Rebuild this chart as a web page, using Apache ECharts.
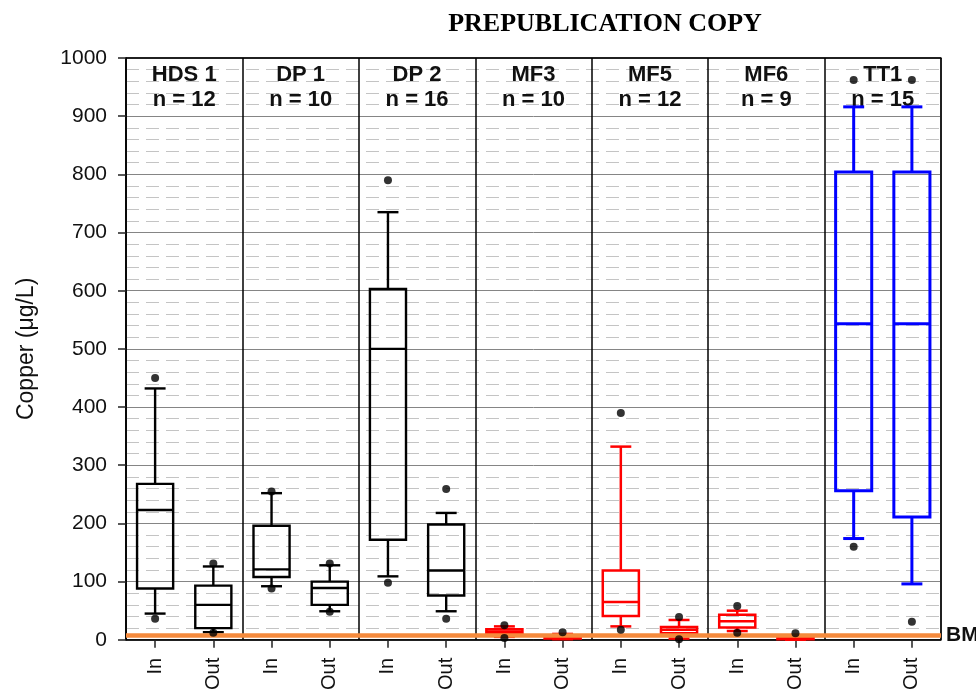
<!DOCTYPE html>
<html>
<head>
<meta charset="utf-8">
<script src="https://cdn.jsdelivr.net/npm/echarts@6/dist/echarts.min.js"></script>
<style>
html,body{margin:0;padding:0;background:#fff;}
#c{width:976px;height:693px;}
</style>
</head>
<body>
<div id="c"></div>
<script>
// ---- data ----
const categories = ['In','Out','In','Out','In','Out','In','Out','In','Out','In','Out','In','Out'];
const groupNames = ['HDS 1','DP 1','DP 2','MF3','MF5','MF6','TT1'];
const groupCounts = [12, 10, 16, 10, 12, 9, 15];
const whiskerLow  = [45, 13,  92,  49, 109,  49,  5,  1,  23,  2, 15, 0, 174,  96];
const quartile1   = [88, 20, 108,  60, 172,  76, 11,  2,  41, 11, 21, 1, 256, 211];
const medians     = [223, 60, 121, 89, 500, 119, 14,  4,  65, 17, 32, 2, 543, 543];
const quartile3   = [268, 93, 196, 100, 603, 198, 18, 7, 119, 22, 43, 4, 804, 804];
const whiskerHigh = [432, 126, 252, 128, 735, 218, 23, 10, 332, 34, 50, 5, 916, 916];
const outlierCategory = [0, 0, 1, 1, 2, 2, 3, 3, 4, 4, 5, 5, 6, 6, 7, 8, 8, 9, 9, 10, 10, 11, 12, 12, 13, 13];
const outlierValues   = [450, 36, 131, 12, 255, 88, 131, 48, 790, 98, 259, 36, 25, 3, 13, 390, 17, 39, 1, 58, 12, 11, 962, 160, 962, 31];
const bmpValue = 8;
const bmpLabel = 'BMP';
const yMin = 0, yMax = 1000, yInterval = 100;
const yTitle = 'Copper (\u03bcg/L)';
const chartTitle = 'PREPUBLICATION COPY';

// ---- styles (separate from data) ----
const groupColors = ['#000000','#000000','#000000','#ff0000','#ff0000','#ff0000','#0000ff'];
const groupLineWidths = [2.4, 2.4, 2.4, 2.5, 2.5, 2.5, 3];

const boxData = categories.map((c, i) => [i, whiskerLow[i], quartile1[i], medians[i], quartile3[i], whiskerHigh[i]]);
const outlierData = outlierCategory.map((c, k) => [c, outlierValues[k]]);
const groupLabels = groupNames.map((g, k) => g + '\nn = ' + groupCounts[k]);

function renderBox(params, api) {
  const i = api.value(0);
  const g = Math.floor(i / 2);
  const color = groupColors[g];
  const lw = groupLineWidths[g];
  const pLow = api.coord([i, api.value(1)]);
  const pQ1 = api.coord([i, api.value(2)]);
  const pMed = api.coord([i, api.value(3)]);
  const pQ3 = api.coord([i, api.value(4)]);
  const pHigh = api.coord([i, api.value(5)]);
  const band = api.size([1, 0])[0];
  const bw = band * 0.62, cw = band * 0.36;
  const cx = pMed[0];
  const st = {stroke: color, lineWidth: lw, fill: 'none'};
  return {
    type: 'group',
    children: [
      {type: 'line', shape: {x1: cx, y1: pQ3[1], x2: cx, y2: pHigh[1]}, style: st},
      {type: 'line', shape: {x1: cx, y1: pQ1[1], x2: cx, y2: pLow[1]}, style: st},
      {type: 'line', shape: {x1: cx - cw / 2, y1: pHigh[1], x2: cx + cw / 2, y2: pHigh[1]}, style: st},
      {type: 'line', shape: {x1: cx - cw / 2, y1: pLow[1], x2: cx + cw / 2, y2: pLow[1]}, style: st},
      {type: 'rect', shape: {x: cx - bw / 2, y: pQ3[1], width: bw, height: pQ1[1] - pQ3[1]}, style: {stroke: color, lineWidth: lw, fill: 'none'}},
      {type: 'line', shape: {x1: cx - bw / 2, y1: pMed[1], x2: cx + bw / 2, y2: pMed[1]}, style: st}
    ]
  };
}

const FONT = '"Liberation Sans", Arial, sans-serif';
const chart = echarts.init(document.getElementById('c'), null, {renderer: 'canvas'});
chart.setOption({
  animation: false,
  backgroundColor: '#ffffff',
  textStyle: {fontFamily: FONT},
  graphic: [{
    type: 'text', x: 605, y: 24, z: 10,
    style: {text: chartTitle, font: 'bold 26px "Liberation Serif", "Times New Roman", serif', fill: '#000', align: 'center', verticalAlign: 'middle'}
  }],
  grid: {left: 126, right: 35, top: 58, bottom: 53, show: true, borderColor: '#000', borderWidth: 1, backgroundColor: 'transparent'},
  xAxis: [{
    type: 'category', data: categories, position: 'bottom', boundaryGap: true,
    axisLine: {show: true, lineStyle: {color: '#000', width: 1.5}},
    axisTick: {show: true, alignWithLabel: true, length: 8, lineStyle: {color: '#222', width: 1.5}},
    axisLabel: {interval: 0, rotate: 90, margin: 18, fontSize: 20, color: '#111', fontFamily: FONT},
    splitLine: {show: false}
  }, {
    type: 'category', data: groupLabels, position: 'top', boundaryGap: true,
    axisLine: {show: true, lineStyle: {color: '#000', width: 1.5}},
    axisTick: {show: false},
    axisLabel: {interval: 0, inside: true, margin: 4, fontSize: 22, lineHeight: 25, fontWeight: 'bold', color: '#111', fontFamily: FONT},
    splitLine: {show: true, interval: 0, lineStyle: {color: '#000', width: 1.5}}
  }],
  yAxis: [{
    type: 'value', min: yMin, max: yMax, interval: yInterval,
    name: yTitle, nameLocation: 'middle', nameGap: 88,
    nameTextStyle: {fontSize: 23, color: '#111', fontFamily: FONT},
    axisLine: {show: true, lineStyle: {color: '#000', width: 1.5}},
    axisTick: {show: true, length: 8, lineStyle: {color: '#222', width: 1.5}},
    axisLabel: {margin: 19, fontSize: 21, color: '#111', fontFamily: FONT, formatter: function (v) { return String(v); }},
    splitLine: {show: true, lineStyle: {color: '#858585', width: 1}},
    minorTick: {show: false, splitNumber: 5},
    minorSplitLine: {show: true, lineStyle: {color: '#c4c4c4', width: 1, type: [13, 7]}}
  }],
  series: [{
    type: 'custom', name: 'boxes', xAxisIndex: 0, yAxisIndex: 0, z: 2,
    renderItem: renderBox,
    encode: {x: 0, y: [1, 2, 3, 4, 5]},
    data: boxData
  }, {
    type: 'scatter', name: 'outliers', xAxisIndex: 0, yAxisIndex: 0, z: 4,
    symbol: 'circle', symbolSize: 8,
    itemStyle: {color: '#000'},
    data: outlierData,
    markLine: {
      silent: true, symbol: 'none', z: 3,
      lineStyle: {color: '#f58a3c', width: 4.5, type: 'solid'},
      label: {show: true, position: 'end', formatter: bmpLabel, fontWeight: 'bold', fontSize: 21, color: '#111', distance: 5, fontFamily: FONT},
      data: [{yAxis: bmpValue}]
    }
  }]
});
</script>
</body>
</html>
